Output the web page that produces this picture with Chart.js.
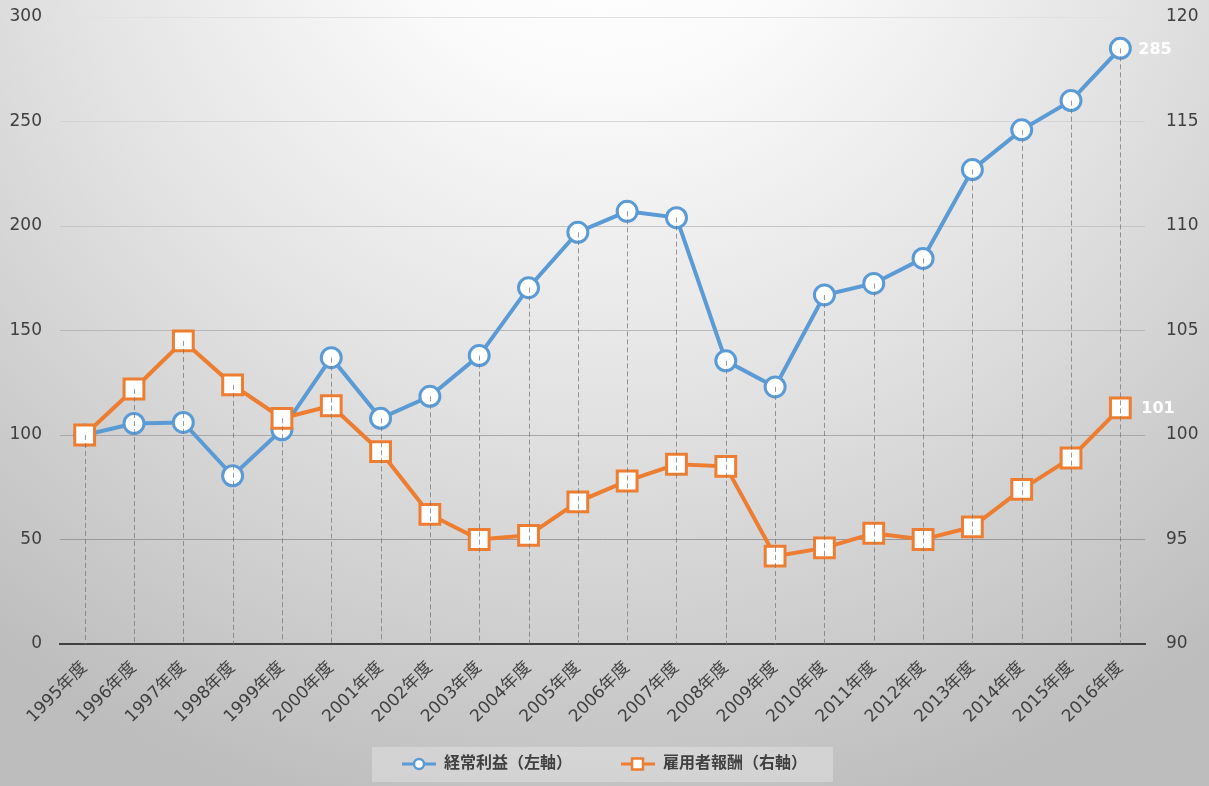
<!DOCTYPE html>
<html>
<head>
<meta charset="utf-8">
<script src="https://cdn.jsdelivr.net/npm/chart.js@4"></script>
<style>
  html, body { margin: 0; padding: 0; background: #d0d0d0; }
  #wrap { width: 1209px; height: 786px; position: relative; }
</style>
</head>
<body>
<div id="wrap"><canvas id="myChart" width="1209" height="786"></canvas></div>
<script>
var years = ["1995年度", "1996年度", "1997年度", "1998年度", "1999年度", "2000年度",
    "2001年度", "2002年度", "2003年度", "2004年度", "2005年度", "2006年度",
    "2007年度", "2008年度", "2009年度", "2010年度", "2011年度", "2012年度",
    "2013年度", "2014年度", "2015年度", "2016年度"];
// 経常利益（左軸）
var profit = [100, 105.5, 106, 80.5, 102.5, 137, 108, 118.5, 138, 170.5, 197, 207,
    204, 135.5, 123, 167, 172.5, 184.5, 227, 246, 260, 285];
// 雇用者報酬（右軸）
var wages = [100, 102.2, 104.5, 102.4, 100.8, 101.4, 99.2, 96.2, 95.0, 95.2, 96.8, 97.8,
    98.6, 98.5, 94.2, 94.6, 95.3, 95.0, 95.6, 97.4, 98.9, 101.3];
var leftTicks = [0, 300, 50];
var rightTicks = [90, 120, 5];
var endLabels = ["285", "101"];

var blue = "#5b9bd5";
var orange = "#ed7d31";
var textColor = "#404040";
var fontFamily = '"DejaVu Sans", "Noto Sans CJK JP", sans-serif';

// small legend markers: line with a point on it
function legendMarker(color, square) {
    var c = document.createElement("canvas");
    c.width = 34; c.height = 14;
    var ctx = c.getContext("2d");
    ctx.strokeStyle = color;
    ctx.lineWidth = 3;
    ctx.beginPath();
    ctx.moveTo(0, 7); ctx.lineTo(34, 7);
    ctx.stroke();
    ctx.fillStyle = "#fff";
    ctx.lineWidth = 2.5;
    if (square) {
        ctx.fillRect(11, 1.5, 11, 11);
        ctx.strokeRect(11, 1.5, 11, 11);
    } else {
        ctx.beginPath();
        ctx.arc(17, 7, 5, 0, Math.PI * 2);
        ctx.fill();
        ctx.stroke();
    }
    return c;
}

// background gradient + legend panel
var backdrop = {
    id: "backdrop",
    beforeDraw: function (chart) {
        var ctx = chart.ctx;
        ctx.save();
        var g = ctx.createRadialGradient(604, -150, 0, 604, -150, 1000);
        g.addColorStop(0, "#ffffff");
        g.addColorStop(0.22, "#fcfbfc");
        g.addColorStop(0.55, "#e3e3e3");
        g.addColorStop(1, "#bdbdbd");
        ctx.fillStyle = g;
        ctx.fillRect(0, 0, chart.width, chart.height);

        var boxes = chart.legend && chart.legend.legendHitBoxes;
        if (boxes && boxes.length) {
            var l = Math.min.apply(null, boxes.map(function (b) { return b.left; }));
            var r = Math.max.apply(null, boxes.map(function (b) { return b.left + b.width; }));
            var t = boxes[0].top, h = boxes[0].height;
            ctx.fillStyle = "rgba(255,255,255,0.28)";
            ctx.fillRect(l - 30, t + h / 2 - 17, r - l + 56, 35);
        }
        ctx.restore();
    }
};

// dashed drop lines from the points down to the axis, and end value labels
var dropLines = {
    id: "dropLines",
    afterDatasetsDraw: function (chart) {
        var ctx = chart.ctx;
        var area = chart.chartArea;
        var m0 = chart.getDatasetMeta(0).data;
        var m1 = chart.getDatasetMeta(1).data;
        ctx.save();
        ctx.strokeStyle = "rgba(120,120,120,0.75)";
        ctx.lineWidth = 1;
        ctx.setLineDash([5, 3]);
        for (var i = 0; i < m0.length; i++) {
            var top = Math.min(m0[i].y, m1[i].y);
            ctx.beginPath();
            ctx.moveTo(Math.round(m0[i].x) + 0.5, top);
            ctx.lineTo(Math.round(m0[i].x) + 0.5, area.bottom);
            ctx.stroke();
        }
        ctx.setLineDash([]);
        ctx.fillStyle = "#ffffff";
        ctx.font = "bold 16px " + fontFamily;
        ctx.textBaseline = "middle";
        var last0 = m0[m0.length - 1], last1 = m1[m1.length - 1];
        ctx.fillText(endLabels[0], last0.x + 18, last0.y + 1);
        ctx.fillText(endLabels[1], last1.x + 21, last1.y + 1);
        ctx.restore();
    }
};

function gridColor(ctx) {
    var v = ctx.tick ? ctx.tick.value : 0;
    var k = Math.round(140 + (v / 300) * 85);
    return "rgb(" + k + "," + k + "," + k + ")";
}

function fitY(width) {
    return function (scale) {
        scale.width = width;
        scale.paddingTop = 0;
        scale.paddingBottom = 0;
    };
}

new Chart("myChart", {
    type: "line",
    data: {
        labels: years,
        datasets: [{
            label: "経常利益（左軸）",
            data: profit,
            yAxisID: "y",
            order: 1,
            borderColor: blue,
            borderWidth: 4,
            pointStyle: "circle",
            pointRadius: 10,
            pointBorderWidth: 3,
            pointBackgroundColor: "#ffffff",
            pointBorderColor: blue,
            tension: 0
        }, {
            label: "雇用者報酬（右軸）",
            data: wages,
            yAxisID: "y1",
            order: 0,
            borderColor: orange,
            borderWidth: 4,
            pointStyle: "rect",
            pointRadius: 14,
            pointBorderWidth: 3,
            pointBackgroundColor: "#ffffff",
            pointBorderColor: orange,
            tension: 0
        }]
    },
    options: {
        responsive: false,
        animation: false,
        layout: { padding: { top: 17, bottom: 4, left: 0, right: 0 } },
        plugins: {
            tooltip: { enabled: false },
            legend: {
                position: "bottom",
                labels: {
                    usePointStyle: true,
                    pointStyleWidth: 34,
                    padding: 10,
                    color: textColor,
                    font: { family: fontFamily, size: 16, weight: "bold" },
                    generateLabels: function (chart) {
                        return [
                            { text: "経常利益（左軸）       ", pointStyle: legendMarker(blue, false),
                              fillStyle: blue, strokeStyle: blue, lineWidth: 0, datasetIndex: 0, fontColor: textColor },
                            { text: "雇用者報酬（右軸）", pointStyle: legendMarker(orange, true),
                              fillStyle: orange, strokeStyle: orange, lineWidth: 0, datasetIndex: 1, fontColor: textColor }
                        ];
                    }
                }
            }
        },
        scales: {
            x: {
                offset: true,
                grid: { display: false },
                border: { display: true, color: "#404040", width: 2 },
                ticks: {
                    color: textColor,
                    font: { family: fontFamily, size: 17 },
                    minRotation: 45,
                    maxRotation: 45,
                    padding: 6
                },
                afterFit: function (scale) { scale.height = 102; }
            },
            y: {
                position: "left",
                min: leftTicks[0],
                max: leftTicks[1],
                ticks: {
                    stepSize: leftTicks[2],
                    color: textColor,
                    font: { family: fontFamily, size: 17 },
                    padding: 18
                },
                grid: { color: gridColor, lineWidth: 1, drawTicks: false },
                border: { display: false },
                afterFit: fitY(60)
            },
            y1: {
                position: "right",
                min: rightTicks[0],
                max: rightTicks[1],
                ticks: {
                    stepSize: rightTicks[2],
                    color: textColor,
                    font: { family: fontFamily, size: 17 },
                    padding: 21
                },
                grid: { drawOnChartArea: false, drawTicks: false },
                border: { display: false },
                afterFit: fitY(64)
            }
        }
    },
    plugins: [backdrop, dropLines]
});
</script>
</body>
</html>
